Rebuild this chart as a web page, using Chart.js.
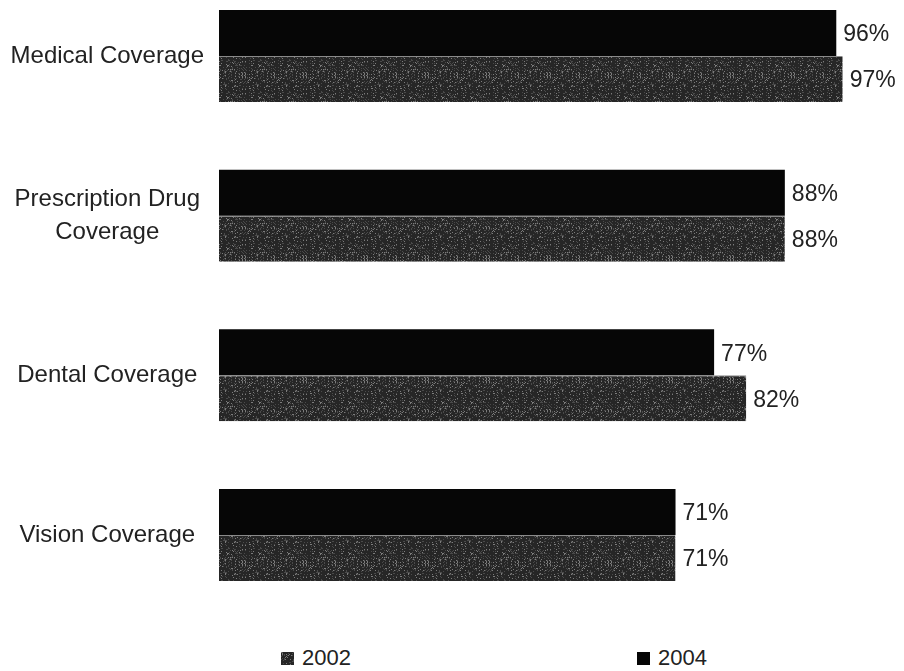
<!DOCTYPE html>
<html>
<head>
<meta charset="utf-8">
<script src="https://cdn.jsdelivr.net/npm/chart.js@4.4.1/dist/chart.umd.min.js"></script>
<style>
    body { margin: 0; background: #fff; }
    #wrap { position: relative; width: 904px; height: 671px; overflow: hidden; background: #fff; }
    #chartBox { position: absolute; left: 0; top: -47px; width: 904px; height: 685px; }
    .legend-item { position: absolute; top: 645px; font: 22px "Liberation Sans", Arial, sans-serif; color: #222; display: flex; align-items: center; }
    .legend-box { width: 13px; height: 13px; margin-right: 8px; }
</style>
</head>
<body>
<div id="wrap">
    <div id="chartBox"><canvas id="coverageChart"></canvas></div>
    <div class="legend-item" id="leg0" style="left:281px"><span class="legend-box" id="box0"></span><span id="txt0"></span></div>
    <div class="legend-item" id="leg1" style="left:637px"><span class="legend-box" id="box1"></span><span id="txt1"></span></div>
</div>
<script>
// datos
const categories = [['Medical Coverage'], ['Prescription Drug', 'Coverage'], ['Dental Coverage'], ['Vision Coverage']];
const years = ['2004', '2002'];
const values2004 = [96, 88, 77, 71];
const values2002 = [97, 88, 82, 71];

// textura gris para 2002 (moteado)
function makeTexture()
{
    const size = 61;
    const c = document.createElement('canvas');
    c.width = size; c.height = size;
    const g = c.getContext('2d');
    g.fillStyle = '#262626';
    g.fillRect(0, 0, size, size);
    for (let i = 0; i < size; i++)
    {
        for (let j = 0; j < size; j++)
        {
            const h = (i * i * 31 + j * j * 17 + i * j * 7 + i * 3) % 29;
            if (h === 0 || h === 13) { g.fillStyle = '#7c7c7c'; g.fillRect(i, j, 1, 1); }
            else if (h === 5 || h === 11 || h === 21 || h === 25) { g.fillStyle = '#4a4a4a'; g.fillRect(i, j, 1, 1); }
        }
    }
    return c;
}
const texCanvas = makeTexture();
const ctx = document.getElementById('coverageChart').getContext('2d');
const texture = ctx.createPattern(texCanvas, 'repeat');

// etiquetas de porcentaje al final de cada barra
const valueLabels = {
    id: 'valueLabels',
    afterDatasetsDraw(chart)
    {
        const c = chart.ctx;
        c.save();
        c.font = '23px "Liberation Sans", Arial, sans-serif';
        c.fillStyle = '#222';
        c.textAlign = 'left';
        c.textBaseline = 'middle';
        chart.data.datasets.forEach((ds, di) =>
        {
            chart.getDatasetMeta(di).data.forEach((bar, i) =>
            {
                c.fillText(ds.data[i] + '%', bar.x + 7, bar.y + 2);
            });
        });
        c.restore();
    }
};

new Chart(ctx, {
    type: 'bar',
    data: {
        labels: categories,
        datasets: [
            {
                label: years[0],
                data: values2004,
                backgroundColor: '#060606',
                borderWidth: 0,
                barPercentage: 1,
                categoryPercentage: 0.576
            },
            {
                label: years[1],
                data: values2002,
                backgroundColor: texture,
                borderColor: '#8a8a8a',
                borderWidth: { top: 1, right: 0, bottom: 0, left: 0 },
                borderSkipped: false,
                barPercentage: 1,
                categoryPercentage: 0.576
            }
        ]
    },
    options: {
        indexAxis: 'y',
        responsive: true,
        maintainAspectRatio: false,
        animation: false,
        layout: { padding: { top: 6, bottom: 15, left: 0, right: 42 } },
        plugins: {
            legend: { display: false },
            tooltip: { enabled: false }
        },
        scales: {
            x: {
                display: false,
                min: 0,
                max: 100
            },
            y: {
                grid: { display: false },
                border: { display: false },
                afterFit: (scale) => { scale.width = 219; },
                ticks: {
                    crossAlign: 'center',
                    padding: 7,
                    color: '#222',
                    font: { family: '"Liberation Sans", Arial, sans-serif', size: 24, lineHeight: 1.35 }
                }
            }
        }
    },
    plugins: [valueLabels]
});

// leyenda (2002 primero, como en el original)
const legendOrder = [1, 0];
legendOrder.forEach((di, k) =>
{
    document.getElementById('txt' + k).innerText = years[di];
    const box = document.getElementById('box' + k);
    if (di === 0) box.style.background = '#060606';
    else box.style.background = 'url(' + texCanvas.toDataURL() + ')';
});
</script>
</body>
</html>
